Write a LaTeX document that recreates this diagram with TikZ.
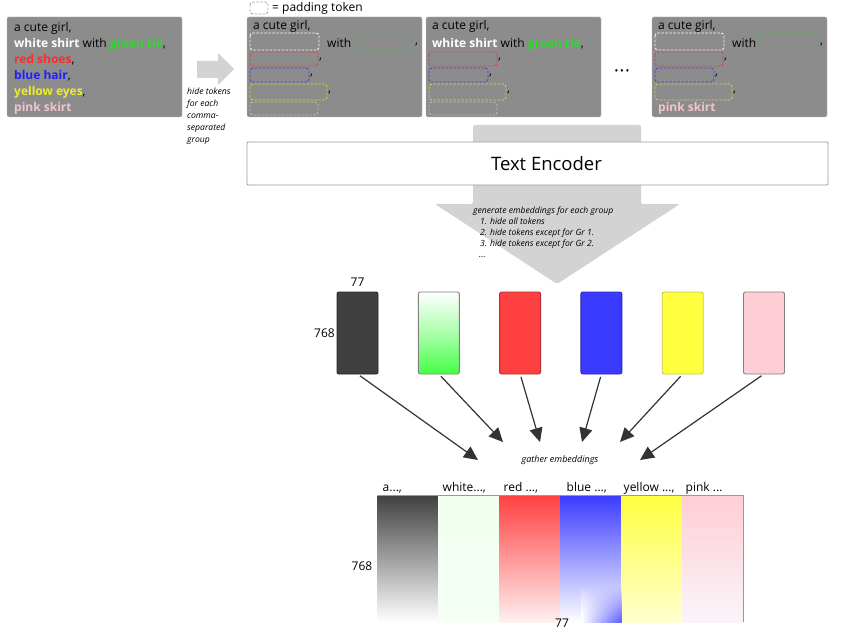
\documentclass[tikz,border=0pt]{standalone}
\usepackage{fontspec}
\setmainfont{Open Sans}
\usepackage{xcolor}
\usetikzlibrary{arrows.meta, positioning, calc, fadings}
\definecolor{panelGrey}{HTML}{8C8C8C}
\definecolor{arrowGrey}{HTML}{D3D3D3}
\definecolor{tokGreen}{HTML}{22E022}
\definecolor{tokRed}{HTML}{FF2A2A}
\definecolor{tokBlue}{HTML}{1E1EFF}
\definecolor{tokYellow}{HTML}{EEEE22}
\definecolor{tokPink}{HTML}{F2C4CC}
\definecolor{embBlack}{HTML}{404040}
\definecolor{embGreen}{HTML}{44FF44}
\definecolor{embRed}{HTML}{FF4040}
\definecolor{embBlue}{HTML}{3A3AFF}
\definecolor{embYellow}{HTML}{FFFF40}
\definecolor{embPink}{HTML}{FFCDD5}

\begin{document}
\begin{tikzpicture}[
  x=1pt, y=-1pt, font=\fontsize{12}{16}\selectfont, node distance=40.3pt,
  panel/.style={fill=panelGrey, draw=gray!55, rounded corners=1.5pt, anchor=north west,
                minimum width=175pt, minimum height=100pt, inner sep=0pt, outer sep=0pt},
  word/.style={anchor=west, inner sep=0pt},
  pad/.style={draw=#1, line width=0.9pt, rounded corners=3pt, dash pattern=on 2.5pt off 1.5pt},
  note/.style={font=\fontsize{8.6}{12}\selectfont\itshape, align=left, inner sep=0pt},
  emb/.style={draw=#1, rounded corners=2pt, line width=0.9pt, minimum width=41pt,
              minimum height=82pt, inner sep=0pt, outer sep=0pt},
  col/.style={minimum width=61pt, minimum height=127pt, inner sep=0pt, outer sep=0pt},
  dim/.style={font=\fontsize{12}{14}\selectfont, inner sep=0pt},
  gather/.style={-{Triangle[length=14pt, width=13pt]}, line width=1.2pt, draw=black!80,
                 shorten <=3pt},
]
\useasboundingbox (0,0) rectangle (853,639);

% masking panels
\node[panel] (prompt) at (7,17) {};
\node[panel] (mask1) at (247,17) {};
\node[panel] (mask2) at (426,17) {};
\node[panel] (maskN) at (652,17) {};

\node[anchor=north west, align=left, inner sep=0pt] (promptText) at ([shift={(7,5)}]prompt.north west)
  {a cute girl,\\
   \textcolor{white}{\textbf{white shirt}} with \textcolor{tokGreen}{\textbf{green tie}},\\
   \textcolor{tokRed}{\textbf{red shoes}},\\
   \textcolor{tokBlue}{\textbf{blue hair}},\\
   \textcolor{tokYellow}{\textbf{yellow eyes}},\\
   \textcolor{tokPink}{\textbf{pink skirt}}};

\draw[pad=gray!70] (250,2) rectangle (268,14);
\node[word] (legend) at (272,8) {= padding token};

\foreach \m in {mask1, mask2, maskN} {
  \node[word] (\m-girl) at ([shift={(6,9.5)}]\m.north west) {a cute girl,};
  \draw[pad=tokRed!60!gray] ([shift={(3,35)}]\m.north west) rectangle +(68,14);
  \node[word] (\m-c3) at ([shift={(72,43)}]\m.north west) {,};
  \draw[pad=tokBlue!60!gray] ([shift={(3,51)}]\m.north west) rectangle +(59,14);
  \node[word] (\m-c4) at ([shift={(63,59)}]\m.north west) {,};
  \draw[pad=tokYellow!75!gray] ([shift={(3,67)}]\m.north west) rectangle +(77,16);
  \node[word] (\m-c5) at ([shift={(81,76)}]\m.north west) {,};
}
\foreach \m in {mask1, maskN} {
  \draw[pad=white!90!gray] ([shift={(3,16)}]\m.north west) rectangle +(69,17);
  \node[word] (\m-with) at ([shift={(80,26)}]\m.north west) {with};
  \draw[pad=tokGreen!45!gray] ([shift={(108,16)}]\m.north west) rectangle +(57,17);
  \node[word] (\m-c2) at ([shift={(168,28)}]\m.north west) {,};
}
\foreach \m in {mask1, mask2} {
  \draw[pad=gray!55] ([shift={(3,85)}]\m.north west) rectangle +(68,13);
}
\node[word] (mask2-shirt) at ([shift={(6,27)}]mask2.north west)
  {\textcolor{white}{\textbf{white shirt}} with \textcolor{tokGreen}{\textbf{green tie}},};
\node[word] (maskN-skirt) at ([shift={(6,91)}]maskN.north west)
  {\textcolor{tokPink}{\textbf{pink skirt}}};

\node[font=\fontsize{10}{10}\selectfont] (dots) at (622,72) {\textbullet\,\textbullet\,\textbullet};

% hide arrow
\fill[arrowGrey] (197,61) -- (218,61) -- (218,53) -- (234,69) -- (218,85) -- (218,78) -- (197,78) -- cycle;
\node[note, anchor=north west] (hideNote) at (187,88)
  {hide tokens\\ for each\\ comma-\\ separated\\ group};

% text encoder
\fill[arrowGrey, rounded corners=2pt] (473,125) -- (641,125) -- (641,204) -- (680,204)
  -- (557,284) -- (435,204) -- (473,204) -- cycle;
\node[draw=gray!80, fill=white, line width=0.8pt, rounded corners=1pt, minimum width=581pt,
      minimum height=43pt, inner sep=0pt, font=\fontsize{18.5}{22}\selectfont]
  (encoder) at (537.5,163.5) {\hspace*{18pt}Text Encoder};
\node[note, font=\fontsize{8.6}{11}\selectfont\itshape, anchor=north west] (steps) at (473,207)
  {generate embeddings for each group\\
   \hspace*{7pt}1. hide all tokens\\
   \hspace*{7pt}2. hide tokens except for Gr 1.\\
   \hspace*{7pt}3. hide tokens except for Gr 2.\\
   \hspace*{6pt}...};

% per-group embeddings
\node[emb=black!85, fill=embBlack] (girl) at (357.5,333) {};
\node[emb=gray, top color=white, bottom color=embGreen, middle color=embGreen!45!white,
      right=of girl] (shirt) {};
\node[emb=embRed!70!black, fill=embRed, right=of shirt] (shoes) {};
\node[emb=embBlue!70!black, fill=embBlue, right=of shoes] (hair) {};
\node[emb=embYellow!55!gray, fill=embYellow, right=of hair] (eyes) {};
\node[emb=gray, fill=embPink, right=of eyes] (skirt) {};
\node[dim, above=5pt of girl] (dimTop) {77};
\node[dim, left=2pt of girl] (dimLeft) {768};

% gather
\coordinate (tGirl) at (478,460);
\coordinate (tShirt) at (503,442);
\coordinate (tShoes) at (540,442);
\coordinate (tHair) at (582,442);
\coordinate (tEyes) at (620,442);
\coordinate (tSkirt) at (640,460);
\draw[gather] (girl.south) -- (tGirl);
\draw[gather] (shirt.south) -- (tShirt);
\draw[gather] (shoes.south) -- (tShoes);
\draw[gather] (hair.south) -- (tHair);
\draw[gather] (eyes.south) -- (tEyes);
\draw[gather] (skirt.south) -- (tSkirt);
\node[note, font=\fontsize{9}{11}\selectfont\itshape] (gatherNote) at (560,460) {gather embeddings};

% concatenated embedding
\node[col, anchor=north west, top color=embBlack, middle color=gray!85, bottom color=white]
  (cGirl) at (377.5,495) {};
\node[col, right=0pt of cGirl, top color=green!6!white, middle color=green!30!white,
      bottom color=green!4!white] (cShirt) {};
\node[col, right=0pt of cShirt, top color=embRed, middle color=embRed!78!white,
      bottom color=embRed!8!white] (cShoes) {};
\node[col, right=0pt of cShoes, top color=embBlue, middle color=embBlue!78!white,
      bottom color=white] (cHair) {};
\node[col, right=0pt of cHair, top color=embYellow, middle color=embYellow!80!white,
      bottom color=embYellow!25!white] (cEyes) {};
\node[col, right=0pt of cEyes, top color=embPink, middle color=embPink!80!white,
      bottom color=violet!4!white] (cSkirt) {};
\shade[left color=white, right color=embBlue!85, path fading=north]
  ([shift={(-40,-36)}]cHair.south east) rectangle (cHair.south east);
\draw[gray!80, line width=0.8pt] (cGirl.north west) -- (cSkirt.north east) -- (cSkirt.south east);

\node[anchor=base west, inner sep=0pt] (lGirl) at ([shift={(5,-4)}]cGirl.north west) {a...,};
\node[anchor=base west, inner sep=0pt] (lShirt) at ([shift={(4,-4)}]cShirt.north west) {white...,};
\node[anchor=base west, inner sep=0pt] (lShoes) at ([shift={(4,-4)}]cShoes.north west) {red ...,};
\node[anchor=base west, inner sep=0pt] (lHair) at ([shift={(6,-4)}]cHair.north west) {blue ...,};
\node[anchor=base west, inner sep=0pt] (lEyes) at ([shift={(2,-4)}]cEyes.north west) {yellow ...,};
\node[anchor=base west, inner sep=0pt] (lSkirt) at ([shift={(3,-4)}]cSkirt.north west) {pink ...};
\node[dim] (dimRows) at (362,566) {768};
\node[dim] (dimCols) at (562,623) {77};
\end{tikzpicture}
\end{document}
